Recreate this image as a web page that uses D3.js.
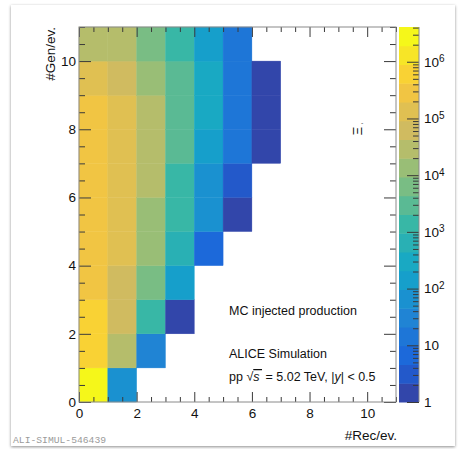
<!DOCTYPE html>
<html>
<head>
<meta charset="utf-8">
<script src="https://cdn.jsdelivr.net/npm/d3@7"></script>
<style>
html, body { margin: 0; padding: 0; background: #fff; }
svg { display: block; font-family: "Liberation Sans", Arial, sans-serif; }
</style>
</head>
<body>
<div id="chart"></div>
<script>
// bin contents: rows = #Gen/ev. bin, columns = #Rec/ev. bin
const genBins = [0, 1, 2, 3, 4, 5, 6, 7, 8, 9, 10];
const recBins = [0, 1, 2, 3, 4, 5, 6];
const counts = [
    [2.8e6, 65,    null,  null, null, null, null],
    [6.0e5, 2.9e4, 30,    null, null, null, null],
    [6.0e5, 6.2e4, 1400,  1.5,  null, null, null],
    [2.8e5, 6.2e4, 6300,  140,  null, null, null],
    [2.8e5, 1.3e5, 13000, 650,  7,    null, null],
    [2.8e5, 1.3e5, 13000, 1400, 65,   1.5,  null],
    [2.8e5, 1.3e5, 29000, 1400, 65,   3,    null],
    [2.8e5, 1.3e5, 29000, 3000, 140,  14,   1.5],
    [2.8e5, 1.3e5, 29000, 3000, 300,  14,   1.5],
    [1.3e5, 6.2e4, 13000, 3000, 300,  14,   1.5],
    [2.9e4, 2.9e4, 6300,  1400, 140,  14,   null]
];
const xMajor = [0, 2, 4, 6, 8, 10];
const yMajor = [0, 2, 4, 6, 8, 10];
const zMajor = [1, 10, 100, 1000, 1e4, 1e5, 1e6];
const zMax = 4.1e6;
const nContours = 20;

// ROOT kBird palette
const birdStops = [0, 0.125, 0.25, 0.375, 0.5, 0.625, 0.75, 0.875, 1];
const birdR = [0.2082, 0.0592, 0.0780, 0.0232, 0.1802, 0.5301, 0.8186, 0.9956, 0.9764];
const birdG = [0.1664, 0.3599, 0.5041, 0.6419, 0.7178, 0.7492, 0.7328, 0.7862, 0.9832];
const birdB = [0.5293, 0.8684, 0.8385, 0.7914, 0.6425, 0.4662, 0.3499, 0.1968, 0.0539];

const W = 461, H = 449;
const plot = {left: 79, right: 396, top: 27, bottom: 402};
const bar = {left: 399, right: 419};

const svg = d3.select('#chart').append('svg')
    .attr('width', W)
    .attr('height', H);

const defs = svg.append('defs');
const shadow = defs.append('filter').attr('id', 'shadow')
    .attr('x', -0.05).attr('y', -0.05).attr('width', 1.1).attr('height', 1.1);
shadow.append('feDropShadow')
    .attr('dx', 0).attr('dy', 1).attr('stdDeviation', 1.8)
    .attr('flood-color', '#000').attr('flood-opacity', 0.45);

svg.append('rect')
    .attr('x', 11).attr('y', 5)
    .attr('width', 444).attr('height', 441)
    .attr('fill', '#fff')
    .attr('filter', 'url(#shadow)');

const x = d3.scaleLinear().domain([0, 11]).range([plot.left, plot.right]);
const y = d3.scaleLinear().domain([0, 11]).range([plot.bottom, plot.top]);
const z = d3.scaleLog().domain([1, zMax]).range([plot.bottom, plot.top]);

const bird = d3.scaleLinear()
    .domain(birdStops)
    .range(birdStops.map((s, i) => d3.rgb(birdR[i] * 255, birdG[i] * 255, birdB[i] * 255)))
    .interpolate(d3.interpolateRgb);
// the published picture looks a little washed out
const wash = d3.interpolateRgb('#000', '#bebebe');

function bandColor(k) {
    const idx = Math.floor((k + 0.99) * 255 / nContours);
    return d3.interpolateRgb(bird(idx / 254), '#bebebe')(0.07);
}
function bandOf(v) {
    const k = Math.floor(nContours * Math.log10(v) / Math.log10(zMax));
    return Math.max(0, Math.min(nContours - 1, k));
}

// cells
const cells = [];
genBins.forEach((g, i) => {
    recBins.forEach((r, j) => {
        const v = counts[i][j];
        if (v != null) cells.push({rec: r, gen: g, v: v});
    });
});

svg.append('g').selectAll('rect')
    .data(cells)
    .join('rect')
    .attr('x', d => x(d.rec))
    .attr('y', d => y(d.gen + 1))
    .attr('width', d => x(d.rec + 1) - x(d.rec))
    .attr('height', d => y(d.gen) - y(d.gen + 1))
    .attr('fill', d => bandColor(bandOf(d.v)))
    .attr('stroke', d => bandColor(bandOf(d.v)))
    .attr('stroke-width', 0.4);

// colour bar bands
const bands = d3.range(nContours).map(k => ({
    k: k,
    lo: Math.pow(10, k * Math.log10(zMax) / nContours),
    hi: Math.pow(10, (k + 1) * Math.log10(zMax) / nContours)
}));
svg.append('g').selectAll('rect')
    .data(bands)
    .join('rect')
    .attr('x', bar.left)
    .attr('y', d => z(d.hi))
    .attr('width', bar.right - bar.left)
    .attr('height', d => z(d.lo) - z(d.hi) + 0.5)
    .attr('fill', d => bandColor(d.k));

const tickColor = '#3a3a3a';
const frameColor = '#8a8a8a';
const fontSize = '13.5px';

function minorSteps(max, step) {
    return d3.range(0, max + 1e-9, step).filter(v => Math.abs(v / 2 - Math.round(v / 2)) > 1e-9);
}
const xMinor = minorSteps(11, 0.5);
const yMinor = minorSteps(11, 0.5);

function styleAxis(g) {
    g.select('.domain').remove();
    g.selectAll('.tick line').attr('stroke', tickColor);
    g.selectAll('text')
        .attr('fill', '#111')
        .attr('font-size', fontSize)
        .attr('font-family', '"Liberation Sans", Arial, sans-serif');
}

// left / right axes
svg.append('g')
    .attr('transform', `translate(${plot.left},0)`)
    .call(d3.axisLeft(y).tickValues(yMajor).tickSize(-12).tickPadding(3).tickFormat(d3.format('d')))
    .call(styleAxis);
svg.append('g')
    .attr('transform', `translate(${plot.left},0)`)
    .call(d3.axisLeft(y).tickValues(yMinor).tickSize(-6).tickFormat(''))
    .call(styleAxis);
svg.append('g')
    .attr('transform', `translate(${plot.right},0)`)
    .call(d3.axisRight(y).tickValues(yMajor).tickSize(-12).tickFormat(''))
    .call(styleAxis);
svg.append('g')
    .attr('transform', `translate(${plot.right},0)`)
    .call(d3.axisRight(y).tickValues(yMinor).tickSize(-6).tickFormat(''))
    .call(styleAxis);

// bottom / top axes
svg.append('g')
    .attr('transform', `translate(0,${plot.bottom})`)
    .call(d3.axisBottom(x).tickValues(xMajor).tickSize(-10).tickPadding(6).tickFormat(d3.format('d')))
    .call(styleAxis);
svg.append('g')
    .attr('transform', `translate(0,${plot.bottom})`)
    .call(d3.axisBottom(x).tickValues(xMinor).tickSize(-5).tickFormat(''))
    .call(styleAxis);
svg.append('g')
    .attr('transform', `translate(0,${plot.top})`)
    .call(d3.axisTop(x).tickValues(xMajor).tickSize(-10).tickFormat(''))
    .call(styleAxis);
svg.append('g')
    .attr('transform', `translate(0,${plot.top})`)
    .call(d3.axisTop(x).tickValues(xMinor).tickSize(-5).tickFormat(''))
    .call(styleAxis);

// frame
svg.append('rect')
    .attr('x', plot.left).attr('y', plot.top)
    .attr('width', plot.right - plot.left)
    .attr('height', plot.bottom - plot.top)
    .attr('fill', 'none')
    .attr('stroke', frameColor)
    .attr('stroke-width', 1);

// colour axis
const zMinor = [];
for (let d = 0; d <= 6; d++) {
    for (let m = 2; m <= 9; m++) {
        const v = m * Math.pow(10, d);
        if (v <= zMax) zMinor.push(v);
    }
}
svg.append('g')
    .attr('transform', `translate(${bar.right},0)`)
    .call(d3.axisRight(z).tickValues(zMajor).tickSize(-12).tickFormat(''))
    .call(styleAxis);
svg.append('g')
    .attr('transform', `translate(${bar.right},0)`)
    .call(d3.axisRight(z).tickValues(zMinor).tickSize(-6).tickFormat(''))
    .call(styleAxis);
svg.append('line')
    .attr('x1', bar.right).attr('x2', bar.right)
    .attr('y1', plot.top).attr('y2', plot.bottom)
    .attr('stroke', frameColor);

const zLab = svg.append('g')
    .attr('font-size', fontSize)
    .attr('fill', '#111')
    .selectAll('text')
    .data(zMajor)
    .join('text')
    .attr('x', bar.right + 5)
    .attr('y', d => z(d))
    .attr('dy', '0.36em');
zLab.each(function(d) {
    const e = Math.round(Math.log10(d));
    const t = d3.select(this);
    if (e === 0) t.text('1');
    else if (e === 1) t.text('10');
    else {
        t.append('tspan').text('10');
        t.append('tspan').attr('dy', '-0.45em').attr('font-size', '10px').text(e);
    }
});

// axis titles
svg.append('text')
    .attr('x', plot.right + 1)
    .attr('y', 440)
    .attr('text-anchor', 'end')
    .attr('font-size', fontSize)
    .attr('fill', '#111')
    .text('#Rec/ev.');
svg.append('text')
    .attr('transform', `translate(55,${plot.top}) rotate(-90)`)
    .attr('text-anchor', 'end')
    .attr('font-size', fontSize)
    .attr('fill', '#111')
    .text('#Gen/ev.');

// z title (rotated Xi)
svg.append('text')
    .attr('transform', 'translate(361.5,131) rotate(-90)')
    .attr('text-anchor', 'middle')
    .attr('font-size', '13px')
    .attr('fill', '#111')
    .text('\u039E');
svg.append('text')
    .attr('x', 361).attr('y', 125)
    .attr('font-size', '7px')
    .attr('fill', '#555')
    .text('-');

// labels in the plot
const lab = svg.append('g')
    .attr('font-size', '12.5px')
    .attr('fill', '#111');
lab.append('text').attr('x', 229).attr('y', 315).text('MC injected production');
lab.append('text').attr('x', 229).attr('y', 358).text('ALICE Simulation');
const pp = lab.append('text').attr('x', 229).attr('y', 381);
pp.append('tspan').text('pp \u221A');
pp.append('tspan').attr('font-style', 'italic').attr('text-decoration', 'overline').text('s\u2009');
pp.append('tspan').text(' = 5.02 TeV, |');
pp.append('tspan').attr('font-style', 'italic').text('y');
pp.append('tspan').text('| < 0.5');

// watermark
svg.append('text')
    .attr('x', 13).attr('y', 443)
    .attr('font-family', '"Liberation Mono", "DejaVu Sans Mono", monospace')
    .attr('font-size', '9.7px')
    .attr('fill', '#9a9a9a')
    .text('ALI-SIMUL-546439');
</script>
</body>
</html>
